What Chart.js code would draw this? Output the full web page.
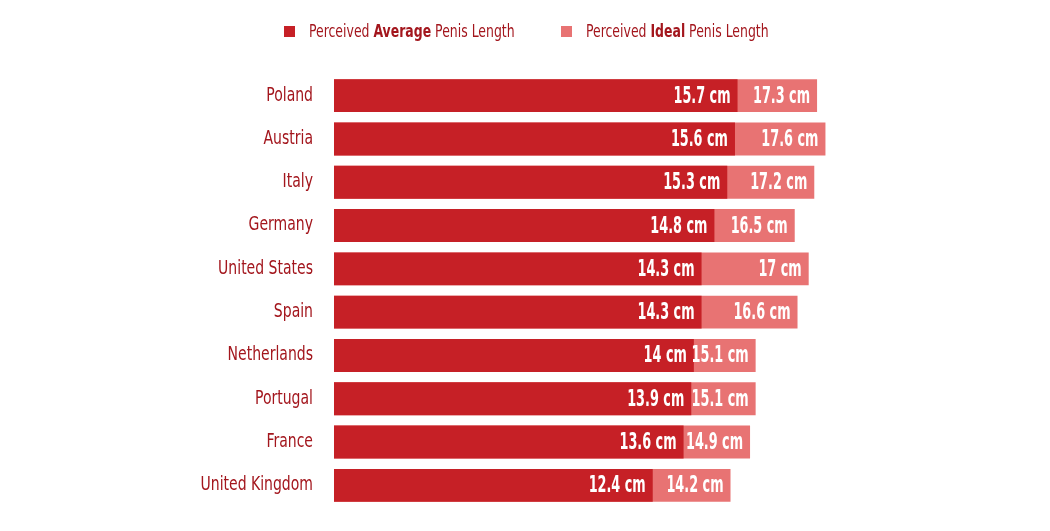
<!DOCTYPE html>
<html>
<head>
<meta charset="utf-8">
<script src="https://cdn.jsdelivr.net/npm/chart.js@4.4.1/dist/chart.umd.min.js"></script>
<style>
  html, body { margin: 0; padding: 0; background: #fff; }
  #wrap { position: relative; width: 1050px; height: 531px; }
  canvas { display: block; }
  .item {
    position: absolute; top: 20px; height: 22px; white-space: nowrap;
    font-family: 'DejaVu Sans Condensed', sans-serif;
    font-size: 18px; color: #a3161d; line-height: 22px;
  }
  .box { position: absolute; top: 6px; left: 0; width: 11px; height: 11px; }
  .txt { position: absolute; left: 25px; top: 0; transform: scaleX(0.77); transform-origin: left center; }
</style>
</head>
<body>
<div id="wrap">
  <div class="item" style="left:284px"><span class="box" style="background:#c62026"></span><span class="txt">Perceived <b>Average</b> Penis Length</span></div>
  <div class="item" style="left:561px"><span class="box" style="background:#e87373"></span><span class="txt">Perceived <b>Ideal</b> Penis Length</span></div>
  <canvas id="chart" width="1050" height="531"></canvas>
</div>
<script>
const countries = ['Poland', 'Austria', 'Italy', 'Germany', 'United States', 'Spain', 'Netherlands', 'Portugal', 'France', 'United Kingdom'];
const averageLen = [15.7, 15.6, 15.3, 14.8, 14.3, 14.3, 14, 13.9, 13.6, 12.4];
const idealLen = [17.3, 17.6, 17.2, 16.5, 17, 16.6, 15.1, 15.1, 14.9, 14.2];

const darkRed = '#c62026';
const lightRed = '#e87373';
const labelRed = '#a3161d';
const condensed = "'DejaVu Sans Condensed', sans-serif";

// draws text squeezed horizontally, the original uses a narrow typeface
function narrowText(ctx, text, x, y, font, color, sx) {
    ctx.save();
    ctx.translate(x, y);
    ctx.scale(sx, 1);
    ctx.font = font;
    ctx.fillStyle = color;
    ctx.textAlign = 'right';
    ctx.textBaseline = 'middle';
    ctx.fillText(text, 0, 0);
    ctx.restore();
}

// country names on the left
const countryLabels = {
    id: 'countryLabels',
    afterDraw(chart) {
        const yScale = chart.scales.y;
        chart.data.labels.forEach((name, i) => {
            const y = yScale.getPixelForTick(i);
            narrowText(chart.ctx, name, chart.chartArea.left - 21, y, '19px ' + condensed, labelRed, 0.82);
        });
    }
};

// white value labels at the end of each bar
const valueLabels = {
    id: 'valueLabels',
    afterDatasetsDraw(chart) {
        [1, 0].forEach(i => {
            const meta = chart.getDatasetMeta(i);
            const values = chart.data.datasets[i].data;
            meta.data.forEach((bar, j) => {
                const v = values[j];
                const text = (Number.isInteger(v) ? v : v.toFixed(1)) + ' cm';
                narrowText(chart.ctx, text, bar.x - 7, bar.y + 1, 'bold 23px ' + condensed, '#ffffff', 0.62);
            });
        });
    }
};

new Chart(document.getElementById('chart'), {
    type: 'bar',
    data: {
        labels: countries,
        datasets: [
            {
                label: 'Perceived Average Penis Length',
                data: averageLen,
                backgroundColor: darkRed,
                xAxisID: 'x',
                grouped: false,
                categoryPercentage: 1,
                barPercentage: 0.76
            },
            {
                label: 'Perceived Ideal Penis Length',
                data: idealLen,
                backgroundColor: lightRed,
                xAxisID: 'x2',
                grouped: false,
                categoryPercentage: 1,
                barPercentage: 0.76
            }
        ]
    },
    options: {
        indexAxis: 'y',
        responsive: false,
        animation: false,
        layout: {
            padding: { top: 74, bottom: 24, left: 0, right: 150 }
        },
        plugins: {
            legend: { display: false },
            tooltip: { enabled: false }
        },
        scales: {
            x: { display: false, min: 0, max: 22.02 },
            x2: { display: false, min: 0, max: 20.27 },
            y: {
                afterFit: (scale) => { scale.width = 334; },
                grid: { display: false, drawTicks: false },
                border: { display: false },
                ticks: { display: false }
            }
        }
    },
    plugins: [valueLabels, countryLabels]
});
</script>
</body>
</html>
